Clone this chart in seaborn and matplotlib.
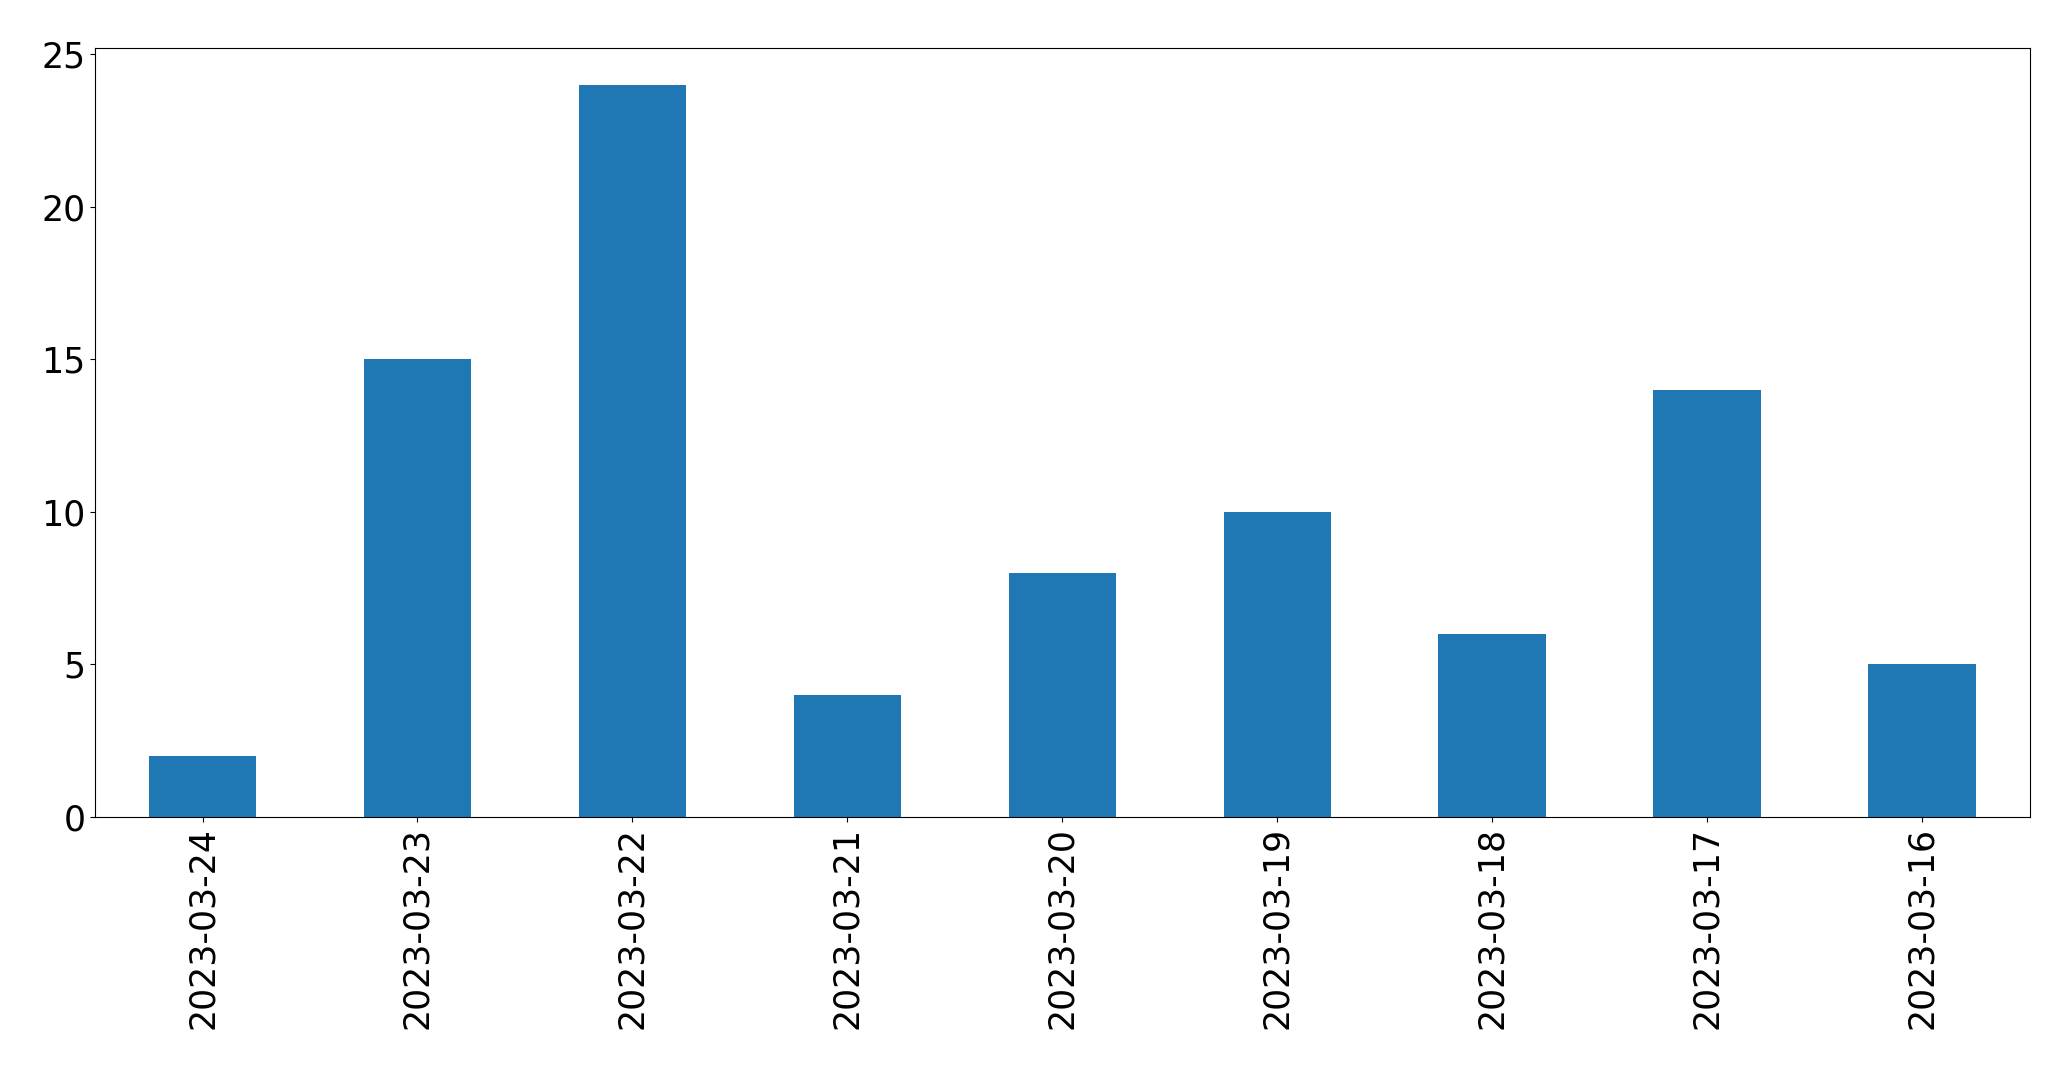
import pandas as pd
import matplotlib
matplotlib.use("Agg")
import matplotlib.pyplot as plt
import seaborn as sns

# data
dates = ["2023-03-24", "2023-03-23", "2023-03-22", "2023-03-21", "2023-03-20",
         "2023-03-19", "2023-03-18", "2023-03-17", "2023-03-16"]
counts = [2, 15, 24, 4, 8, 10, 6, 14, 5]

df = pd.DataFrame({"date": dates, "count": counts})

fig, ax = plt.subplots(figsize=(20.71, 10.69), dpi=100)
fig.subplots_adjust(left=0.0459, right=0.980, top=0.955, bottom=0.2357)

sns.barplot(data=df, x="date", y="count", order=dates, color="#1f77b4",
            saturation=1, width=0.5, ax=ax)

ax.set_xlim(-0.5, len(dates) - 0.5)
ax.set_ylim(0, 25.2)
ax.set_xlabel("")
ax.set_ylabel("")
ax.tick_params(axis="both", labelsize=25)
ax.tick_params(axis="x", labelrotation=90)

fig.savefig("out.png", dpi=100)
